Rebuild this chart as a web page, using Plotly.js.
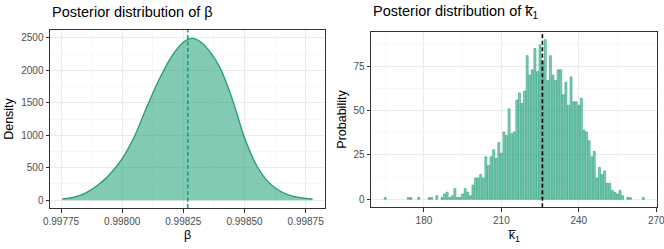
<!DOCTYPE html>
<html><head><meta charset="utf-8">
<script src="https://cdn.plot.ly/plotly-3.0.1.min.js"></script>
<style>html,body{margin:0;padding:0;background:#fff;}#chart{width:664px;height:249px;}</style>
</head><body><div id="chart"></div>
<script>
// ---- Left panel: posterior density of beta ----
const betaGrid = [0.997755, 0.997800, 0.997850, 0.997900, 0.997950, 0.998000, 0.998050, 0.998100, 0.998150, 0.998200, 0.998250, 0.998285, 0.998320, 0.998360, 0.998400, 0.998450, 0.998500, 0.998550, 0.998600, 0.998650, 0.998700, 0.998750, 0.998778];
const betaDensity = [20, 45, 110, 230, 400, 640, 980, 1430, 1850, 2200, 2430, 2490, 2440, 2280, 2040, 1560, 960, 530, 270, 130, 60, 28, 15];
const betaMean = 0.998268;
const betaTicks = [0.99775, 0.99800, 0.99825, 0.99850, 0.99875];
const betaTickLabels = ['0.99775', '0.99800', '0.99825', '0.99850', '0.99875'];
const betaMinor = [0.997875, 0.998125, 0.998375, 0.998625];
const densityTicks = [0, 500, 1000, 1500, 2000, 2500];
const densityTickLabels = ['0', '500', '1000', '1500', '2000', '2500'];
const densityMinor = [250, 750, 1250, 1750, 2250];

// ---- Right panel: posterior of k-bar_1 (counts per value) ----
const kValues = [165, 174, 175, 178, 182, 183, 185, 187, 188, 189, 190, 191, 192, 193, 194, 195, 196, 197, 198, 199, 200, 201, 202, 203, 204, 205, 206, 207, 208, 209, 210, 211, 212, 213, 214, 215, 216, 217, 218, 219, 220, 221, 222, 223, 224, 225, 226, 227, 228, 229, 230, 231, 232, 233, 234, 235, 236, 237, 238, 239, 240, 241, 242, 243, 244, 245, 246, 247, 248, 249, 250, 251, 252, 253, 254, 255, 256, 257, 259, 260, 265];
const kCounts = [1, 1, 1, 1, 1, 1, 2, 1, 3, 4, 1, 2, 6, 1, 1, 3, 6, 4, 2, 8, 12, 12, 14, 12, 24, 19, 24, 28, 23, 32, 26, 38, 36, 51, 37, 38, 56, 60, 54, 61, 81, 70, 73, 85, 72, 87, 78, 90, 67, 81, 70, 67, 73, 73, 59, 66, 53, 69, 55, 55, 53, 57, 39, 38, 33, 24, 27, 12, 18, 14, 16, 9, 9, 5, 4, 3, 5, 2, 1, 1, 1];
const kMean = 225.9;
const kTicks = [180, 210, 240, 270];
const kTickLabels = ['180', '210', '240', '270'];
const kMinor = [165, 195, 225, 255];
const countTicks = [0, 25, 50, 75];
const countTickLabels = ['0', '25', '50', '75'];
const countMinor = [12.5, 37.5, 62.5, 87.5];

const FONT = '"Liberation Sans", Arial, Helvetica, sans-serif';
const GREEN = '#1b9e77';
const W = 664, H = 249;
const px = v => v / W;
const py = v => (H - v) / H;

const tickFont = {family: FONT, size: 10, color: '#4d4d4d'};
const titleFont = {family: FONT, size: 12.5, color: '#000'};
const grid = {showgrid: true, gridcolor: '#ebebeb', gridwidth: 1, zeroline: false,
  showline: true, mirror: true, linecolor: '#333333', linewidth: 1,
  ticks: 'outside', ticklen: 3.5, tickcolor: '#333333', tickwidth: 1,
  tickfont: tickFont, tickmode: 'array', automargin: false, fixedrange: true,
  ticklabeloverflow: 'allow'};
const minor = vals => ({tickmode: 'array', tickvals: vals, showgrid: true, gridcolor: '#f2f2f2', gridwidth: 0.6, ticks: ''});

const traces = [
  {type: 'scatter', mode: 'lines', x: betaGrid, y: betaDensity, xaxis: 'x', yaxis: 'y',
   line: {color: GREEN, width: 1.3, shape: 'spline', smoothing: 0.8},
   fill: 'tozeroy', fillcolor: 'rgba(27,158,119,0.55)', hoverinfo: 'skip', showlegend: false},
  {type: 'bar', x: kValues, y: kCounts, xaxis: 'x2', yaxis: 'y2', width: 0.75,
   marker: {color: 'rgba(27,158,119,0.5)', line: {color: GREEN, width: 0.6}},
   hoverinfo: 'skip', showlegend: false}
];

const layout = {
  width: W, height: H, margin: {l: 0, r: 0, t: 0, b: 0},
  paper_bgcolor: '#fff', plot_bgcolor: '#fff', showlegend: false,
  font: {family: FONT},
  xaxis: Object.assign({}, grid, {domain: [px(50), px(325)], range: [0.997705, 0.998829], anchor: 'y',
    tickvals: betaTicks, ticktext: betaTickLabels, minor: minor(betaMinor)}),
  yaxis: Object.assign({}, grid, {domain: [py(208), py(30)], range: [-120, 2620], anchor: 'x',
    tickvals: densityTicks, ticktext: densityTickLabels, minor: minor(densityMinor),
    title: {text: 'Density', font: titleFont, standoff: 4}}),
  xaxis2: Object.assign({}, grid, {domain: [px(371), px(657)], range: [159.5, 270.3], anchor: 'y2',
    tickvals: kTicks, ticktext: kTickLabels, minor: minor(kMinor)}),
  yaxis2: Object.assign({}, grid, {domain: [py(207.3), py(31.7)], range: [-4.5, 94.5], anchor: 'x2',
    tickvals: countTicks, ticktext: countTickLabels, minor: minor(countMinor),
    title: {text: 'Probability', font: titleFont, standoff: 4}}),
  shapes: [
    {type: 'line', xref: 'x', yref: 'y domain', x0: betaMean, x1: betaMean, y0: 0, y1: 1,
     line: {color: GREEN, width: 1.6, dash: '4px,2.5px'}},
    {type: 'line', xref: 'x2', yref: 'y2 domain', x0: kMean, x1: kMean, y0: 0, y1: 1,
     line: {color: '#000', width: 1.6, dash: '4px,2.5px'}}
  ],
  annotations: [
    {xref: 'paper', yref: 'paper', x: px(50), y: py(12.5), xanchor: 'left', yanchor: 'middle',
     text: 'Posterior distribution of β', showarrow: false, font: {family: FONT, size: 14.5, color: '#000'}},
    {xref: 'paper', yref: 'paper', x: px(371), y: py(12.5), xanchor: 'left', yanchor: 'middle',
     text: 'Posterior distribution of k\u0305<sub>1</sub>', showarrow: false, font: {family: FONT, size: 14.5, color: '#000'}},
    {xref: 'paper', yref: 'paper', x: px(187.5), y: py(226.5), xanchor: 'center', yanchor: 'top', borderpad: 0,
     text: 'β', showarrow: false, font: titleFont},
    {xref: 'paper', yref: 'paper', x: px(514), y: py(226.5), xanchor: 'center', yanchor: 'top', borderpad: 0,
     text: 'k\u0305<sub>1</sub>', showarrow: false, font: titleFont}
  ]
};

Plotly.newPlot('chart', traces, layout, {staticPlot: true, displayModeBar: false});
</script></body></html>
